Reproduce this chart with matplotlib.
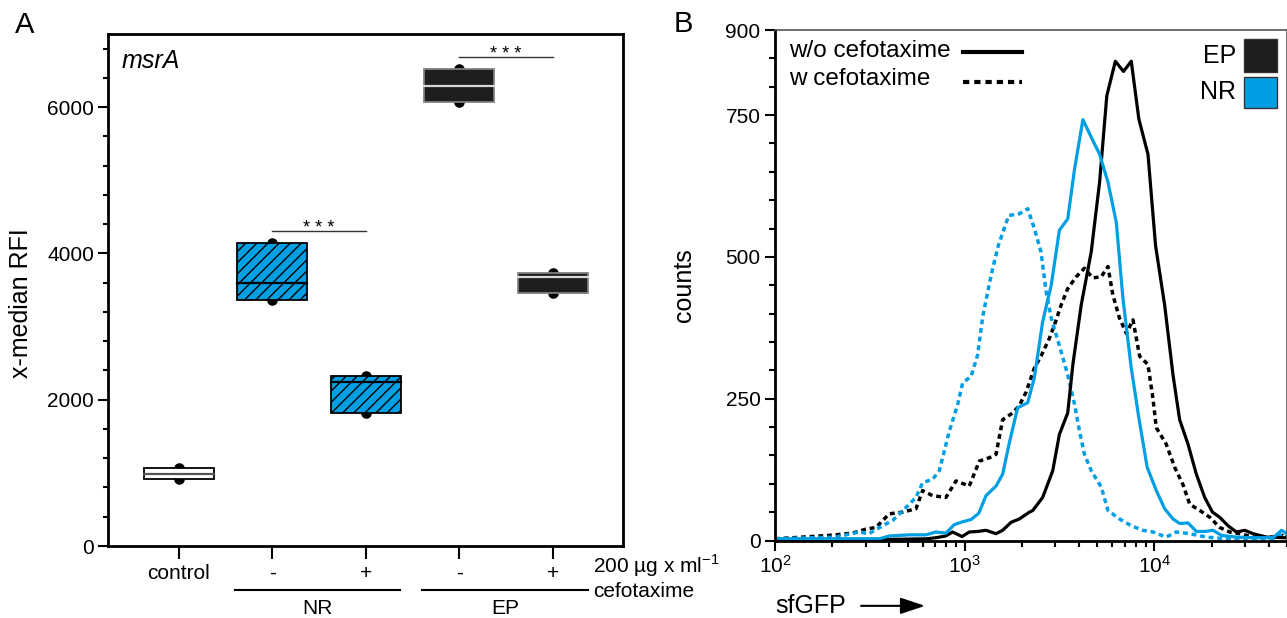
import numpy as np
import matplotlib
matplotlib.use("Agg")
import matplotlib.pyplot as plt
import matplotlib.ticker as mticker
from matplotlib.lines import Line2D
from matplotlib.patches import Rectangle

plt.rcParams['font.family'] = ['Liberation Sans', 'DejaVu Sans']
plt.rcParams['mathtext.fontset'] = 'custom'
plt.rcParams['mathtext.rm'] = 'Liberation Sans'
plt.rcParams['hatch.linewidth'] = 1.0

BLUE = '#009fe3'
DARK = '#1e1e1e'

# ---- panel A: x-median RFI, three replicates per condition ----
cond_labels = ['control', '-', '+', '-', '+']
control_rfi = [912, 987, 1060]
nr_minus_rfi = [3360, 3601, 4140]
nr_plus_rfi = [1822, 2249, 2320]
ep_minus_rfi = [6075, 6290, 6515]
ep_plus_rfi = [3455, 3676, 3730]
sig_pairs = [(1, 2, 4300), (3, 4, 6680)]

# ---- panel B: sfGFP histograms (log10 fluorescence, counts) ----
ep_wo_logx = [2.00, 2.30, 2.60, 2.80, 2.85, 2.90, 2.936, 2.986, 3.024, 3.07, 3.112, 3.165,
              3.200, 3.244, 3.288, 3.341, 3.359, 3.411, 3.464, 3.499, 3.543, 3.570, 3.614,
              3.667, 3.711, 3.749, 3.794, 3.837, 3.878, 3.918, 3.966, 4.006, 4.054, 4.098,
              4.133, 4.177, 4.221, 4.265, 4.306, 4.344, 4.388, 4.432, 4.476, 4.520, 4.591,
              4.678, 4.699]
ep_wo_counts = [2, 2, 2, 3, 5, 8, 15, 7, 15, 16, 18, 12,
                18, 32, 38, 50, 53, 76, 123, 187, 225, 310, 415,
                509, 632, 784, 845, 827, 845, 743, 681, 520, 415, 292,
                213, 170, 117, 76, 50, 41, 26, 15, 18, 12, 6,
                5, 5]

nr_wo_logx = [2.00, 2.30, 2.55, 2.602, 2.707, 2.796, 2.848, 2.901, 2.945, 2.989, 3.033,
              3.074, 3.112, 3.165, 3.200, 3.235, 3.279, 3.332, 3.367, 3.411, 3.456, 3.499,
              3.543, 3.579, 3.623, 3.667, 3.711, 3.755, 3.799, 3.834, 3.878, 3.918, 3.962,
              4.010, 4.054, 4.098, 4.133, 4.177, 4.221, 4.265, 4.309, 4.353, 4.432, 4.520,
              4.626, 4.670, 4.699]
nr_wo_counts = [3, 3, 3, 8, 10, 10, 15, 13, 28, 33, 37,
                48, 79, 96, 117, 172, 234, 243, 287, 386, 450, 547,
                567, 655, 742, 711, 681, 632, 561, 427, 304, 216, 129,
                88, 56, 38, 30, 31, 16, 16, 18, 9, 6, 5,
                5, 18, 12]

nr_w_logx = [2.00, 2.32, 2.443, 2.496, 2.567, 2.619, 2.690, 2.743, 2.778, 2.831, 2.866,
             2.919, 2.963, 2.989, 3.033, 3.068, 3.095, 3.121, 3.147, 3.178, 3.232, 3.288,
             3.332, 3.367, 3.402, 3.429, 3.456, 3.482, 3.508, 3.543, 3.579, 3.605, 3.631,
             3.667, 3.720, 3.755, 3.816, 3.878, 3.939, 3.992, 4.062, 4.115, 4.186, 4.274,
             4.379, 4.626, 4.678, 4.699]
nr_w_counts = [3, 6, 15, 12, 26, 35, 58, 76, 102, 108, 123,
               193, 240, 278, 289, 327, 395, 438, 479, 521, 573, 576,
               585, 550, 509, 439, 392, 363, 333, 292, 240, 193, 152,
               123, 94, 53, 38, 26, 18, 15, 6, 15, 12, 6,
               3, 3, 12, 8]

ep_w_logx = [2.00, 2.144, 2.285, 2.408, 2.479, 2.532, 2.602, 2.672, 2.743, 2.778, 2.831,
             2.901, 2.954, 3.024, 3.077, 3.130, 3.165, 3.200, 3.253, 3.288, 3.324, 3.367,
             3.402, 3.447, 3.473, 3.508, 3.543, 3.588, 3.631, 3.675, 3.720, 3.755, 3.781,
             3.816, 3.852, 3.887, 3.922, 3.966, 3.992, 4.010, 4.062, 4.107, 4.150, 4.186,
             4.239, 4.292, 4.344, 4.397, 4.450, 4.520, 4.626, 4.678, 4.699]
ep_w_counts = [3, 6, 9, 13, 20, 23, 47, 50, 56, 88, 79,
               76, 105, 96, 140, 146, 152, 213, 225, 238, 262, 304,
               325, 357, 380, 415, 444, 465, 480, 463, 465, 483, 433,
               392, 365, 389, 325, 310, 251, 199, 170, 129, 99, 64,
               53, 41, 23, 15, 12, 6, 6, 9, 5]

fig = plt.figure(figsize=(12.87, 6.18), dpi=100)
axA = fig.add_axes([0.0839, 0.1165, 0.4002, 0.8285])
axB = fig.add_axes([0.6022, 0.1254, 0.3978, 0.826])

# ---------------- panel A ----------------
groups = [control_rfi, nr_minus_rfi, nr_plus_rfi, ep_minus_rfi, ep_plus_rfi]
fills = ['white', BLUE, BLUE, DARK, DARK]
hatches = [None, '///', '///', None, None]
edges = ['black', 'black', 'black', '#808080', '#808080']
med_colors = ['#555555', 'black', 'black', '#d8d8d8', '#d8d8d8']
bw = 0.75
for i, vals in enumerate(groups):
    lo, med, hi = min(vals), float(np.median(vals)), max(vals)
    axA.scatter([i] * len(vals), vals, s=58, color='black', zorder=2, linewidths=0)
    axA.bar(i, hi - lo, bottom=lo, width=bw, color=fills[i], edgecolor=edges[i],
            hatch=hatches[i], linewidth=1.3, zorder=3)
    axA.plot([i - bw / 2, i + bw / 2], [med, med], color=med_colors[i], lw=1.6, zorder=4)

for x0, x1, y in sig_pairs:
    axA.plot([x0, x1], [y, y], color='#333333', lw=1.0)
    axA.text((x0 + x1) / 2, y + 45, '* * *', ha='center', va='center', fontsize=13)

axA.set_xlim(-0.76, 4.754)
axA.set_ylim(0, 7000)
axA.set_xticks(range(len(cond_labels)))
axA.set_xticklabels(cond_labels)
axA.yaxis.set_major_locator(mticker.MultipleLocator(2000))
axA.yaxis.set_minor_locator(mticker.MultipleLocator(400))
axA.tick_params(axis='x', length=9, width=1.5, labelsize=15, pad=4)
axA.tick_params(axis='y', which='major', length=7, width=1.5, labelsize=15, pad=3)
axA.tick_params(axis='y', which='minor', length=3.5, width=1.5)
for s in axA.spines.values():
    s.set_linewidth(2)
axA.set_ylabel('x-median RFI', fontsize=18)
axA.yaxis.set_label_coords(-0.146, 0.475)
axA.text(0.027, 0.947, 'msrA', style='italic', fontsize=18, transform=axA.transAxes,
         va='center', ha='left')

tr = axA.get_xaxis_transform()
for xa, xb, name in [(0.605, 2.366, 'NR'), (2.60, 4.38, 'EP')]:
    axA.plot([xa, xb], [-0.086, -0.086], color='black', lw=1.5, transform=tr, clip_on=False)
    axA.text((xa + xb) / 2, -0.122, name, ha='center', va='center', fontsize=15, transform=tr)
axA.text(4.43, -0.039, r'200 µg x ml$^{\mathregular{-1}}$', ha='left', va='center',
         fontsize=15, transform=tr)
axA.text(4.43, -0.088, 'cefotaxime', ha='left', va='center', fontsize=15, transform=tr)

# ---------------- panel B ----------------
axB.plot(10 ** np.array(ep_w_logx), ep_w_counts, color='black', lw=2.5,
         linestyle=(0, (1.4, 1.1)), dash_capstyle='butt')
axB.plot(10 ** np.array(nr_w_logx), nr_w_counts, color=BLUE, lw=2.5,
         linestyle=(0, (1.4, 1.1)), dash_capstyle='butt')
axB.plot(10 ** np.array(ep_wo_logx), ep_wo_counts, color='black', lw=2.3)
axB.plot(10 ** np.array(nr_wo_logx), nr_wo_counts, color=BLUE, lw=2.3)

axB.set_xscale('log')
axB.set_xlim(100, 5e4)
axB.set_ylim(0, 900)
axB.yaxis.set_major_locator(mticker.FixedLocator([0, 250, 500, 750, 900]))
axB.yaxis.set_minor_locator(mticker.MultipleLocator(50))
axB.tick_params(which='major', length=7, width=1.5, labelsize=15)
axB.tick_params(which='minor', length=4.5, width=1.5)
axB.xaxis.set_minor_formatter(mticker.NullFormatter())
axB.spines['left'].set_linewidth(2)
axB.spines['bottom'].set_linewidth(2)
axB.spines['top'].set_linewidth(1.2)
axB.spines['top'].set_color('#555555')
axB.spines['right'].set_linewidth(1.2)
axB.spines['right'].set_color('#555555')
axB.set_ylabel('counts', fontsize=18)
axB.yaxis.set_label_coords(-0.154, 0.5)

axB.text(0.0, -0.128, 'sfGFP', fontsize=18, ha='left', va='center', transform=axB.transAxes)
axB.annotate('', xy=(0.293, -0.128), xytext=(0.168, -0.128), xycoords='axes fraction',
             textcoords='axes fraction',
             arrowprops=dict(arrowstyle='-|>,head_length=1.5,head_width=0.5',
                             color='black', lw=1.5, shrinkA=0, shrinkB=0))

# legend: line styles
axB.text(0.027, 0.9595, 'w/o cefotaxime', fontsize=17.5, ha='left', va='center',
         transform=axB.transAxes)
axB.text(0.027, 0.904, 'w cefotaxime', fontsize=17.5, ha='left', va='center',
         transform=axB.transAxes)
axB.add_line(Line2D([0.367, 0.482], [0.957, 0.957], color='black', lw=3,
                    transform=axB.transAxes))
axB.add_line(Line2D([0.367, 0.482], [0.899, 0.899], color='black', lw=3,
                    linestyle=(0, (1.5, 1.2)), dash_capstyle='butt', transform=axB.transAxes))

# legend: strains
for y0, y1, col, name in [(0.918, 0.982, DARK, 'EP'), (0.847, 0.9085, BLUE, 'NR')]:
    axB.add_patch(Rectangle((0.916, y0), 0.064, y1 - y0, facecolor=col, edgecolor='#333333',
                            lw=1, transform=axB.transAxes))
    axB.text(0.900, (y0 + y1) / 2, name, fontsize=18, ha='right', va='center',
             transform=axB.transAxes)

fig.text(25 / 1287, 1 - 25 / 618, 'A', fontsize=21, ha='center', va='center')
fig.text(683 / 1287, 1 - 24 / 618, 'B', fontsize=21, ha='center', va='center')

fig.savefig('out.png', dpi=100)
